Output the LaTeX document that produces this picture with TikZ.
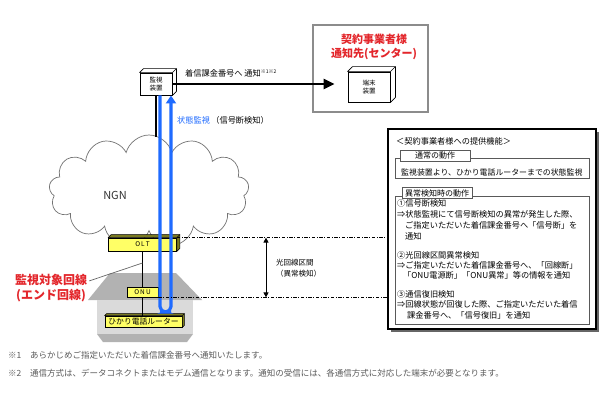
\documentclass[tikz,border=0pt]{standalone}
\usepackage{fontspec}
\setmainfont{Noto Sans CJK JP}
\usepackage{xcolor}
\usepackage{tikz}
\usetikzlibrary{calc,arrows.meta,shapes.symbols,shadows}
\definecolor{ink}{HTML}{000000}
\definecolor{netblue}{HTML}{1F6BFF}
\definecolor{alert}{HTML}{E3262B}
\definecolor{frame}{HTML}{8C8C8C}
\definecolor{boxyel}{HTML}{FFFF66}
\definecolor{boxolive}{HTML}{7A7A20}
\definecolor{note}{HTML}{5A5A5A}
\definecolor{roof}{HTML}{B2B2B2}
\definecolor{wall}{HTML}{DADADA}
\tikzset{
  dev/.style={draw=ink, fill=white, line width=0.9pt, inner sep=0pt, align=center, font=\fontsize{6.5}{8.5}\selectfont},
  unit/.style={draw=ink, fill=boxyel, line width=0.8pt, inner sep=0pt, font=\fontsize{6.5}{7}\selectfont},
  link/.style={draw=ink, line width=2.6pt},
  trunk/.style={draw=ink, line width=1.8pt},
  mon/.style={draw=netblue, line width=3.2pt},
  sect/.style={draw=ink, line width=0.9pt, dash pattern=on 3.5pt off 1.5pt on 1pt off 1.5pt},
  lab/.style={font=\fontsize{8.2}{10}\selectfont, inner sep=0pt, anchor=west},
  small/.style={font=\fontsize{7.5}{11}\selectfont, inner sep=0pt, anchor=west, align=left},
  alertlab/.style={text=alert, font=\bfseries, inner sep=0pt, align=center},
  sub/.style={draw=black!65, line width=0.6pt, minimum width=194, inner sep=0pt},
  tab/.style={draw=black!65, fill=white, line width=0.6pt, minimum width=70, minimum height=11, inner sep=0pt, font=\fontsize{8}{9}\selectfont},
  note/.style={font=\fontsize{8.5}{10}\selectfont, text=note, inner sep=0pt, anchor=west},
}
% top and side faces of a box node
\newcommand{\deviceside}[3]{%
  \filldraw[fill=#3, draw=ink, line width=0.6pt, line join=round]
    (#1.north west) -- ++(#2,-#2) -- ($(#1.north east)+(#2,-#2)$)
    -- ($(#1.south east)+(#2,-#2)$) -- (#1.south east) -- (#1.north east) -- cycle;
  \draw[ink, line width=0.6pt] (#1.north east) -- ++(#2,-#2);}

\begin{document}
\begin{tikzpicture}[x=1pt,y=-1pt]
  \path[use as bounding box, fill=white] (0,0) rectangle (610,400);

  % NGN cloud
  \node[cloud, cloud puffs=13, aspect=1.75, draw=black!55, line width=0.7pt,
        minimum width=200, minimum height=112] (ngncloud) at (149,191) {};
  \node[font=\fontsize{11}{11}\selectfont, text=black!80] (ngn) at (115,195) {NGN};

  % house
  \fill[roof] (88,300) -- (110,273) -- (176,273) -- (202,300) -- cycle;
  \fill[wall] (97,300) -- (193,300) -- (193,334) -- (97,334) -- cycle;
  \fill[roof] (97,334) -- (193,334) -- (187,342) -- (103,342) -- cycle;

  % notification side
  \node[draw=frame, line width=1.3pt, minimum width=115, minimum height=87] (center) at (370.5,68.5) {};
  \node[alertlab, font=\fontsize{11}{14}\selectfont\bfseries] (centername) at (374,47) {契約事業者様\\通知先(センター)};
  \node[dev, minimum width=42, minimum height=30] (tanmatsu) at (369,87) {端末\\装置};
  \deviceside{tanmatsu}{5}{white}

  \node[dev, minimum width=32, minimum height=22] (kanshi) at (156,84) {監視\\装置};
  \deviceside{kanshi}{4}{white}
  \draw[link, -{Triangle[width=10pt,length=11pt]}, shorten >=13pt] (kanshi.east) -- (kanshi.east -| tanmatsu.west);
  \node[lab] (callnote) at (185,73) {着信課金番号へ 通知\raisebox{2.5pt}{\fontsize{5}{5}\selectfont ※1※2}};

  \coordinate (drop) at (156,137);
  \draw[link] (kanshi.south) -- (drop);

  % access line
  \node[unit, minimum width=68, minimum height=13] (olt) at (142.5,244.5) {O\,L\,T};
  \deviceside{olt}{3}{boxolive}
  \node[unit, minimum width=31, minimum height=10] (onu) at (142.5,292) {O\,N\,U};
  \node[unit, minimum width=77, minimum height=11, font=\fontsize{7.8}{8}\selectfont] (router) at (143.5,321.5) {ひかり電話ルーター};
  \deviceside{router}{2}{boxolive}
  \draw[trunk] (olt.south) -- (onu.north);
  \draw[trunk] (onu.south) -- (onu.south |- router.north);

  \coordinate (loopbot) at (165.5,312);
  \draw[mon, rounded corners=5.5pt, -{Triangle[width=10pt,length=8pt]}]
    ([xshift=4pt]kanshi.south) |- (loopbot) -| ([xshift=15pt]kanshi.south);
  \node[lab] (watchlab) at (177,120) {\textcolor{netblue}{状態監視}\,（信号断検知）};

  \node[alertlab, font=\fontsize{12}{15}\selectfont\bfseries] (endline) at (51,288) {監視対象回線\\(エンド回線)};
  \coordinate (tap) at (142.5,263);
  \draw[black!60, line width=0.7pt] ($(endline.north east)+(2,7)$) -- (tap);

  % monitored section
  \node[draw=ink, line width=1.5pt, fill=white, inner sep=0pt,
        drop shadow={shadow xshift=3pt, shadow yshift=-3pt, fill=black!60, opacity=1},
        minimum width=208, minimum height=200] (panel) at (492,229) {};
  \draw[sect] (olt.north east) -- (olt.north east -| panel.west);
  \draw[sect] (onu.south east) -- (onu.south east -| panel.west);
  \coordinate (spanx) at (266,0);
  \draw[ink, line width=0.9pt, {Triangle[width=5pt,length=5pt]}-{Triangle[width=5pt,length=5pt]}]
    (olt.north east -| spanx) -- (onu.south east -| spanx);
  \node[small] (spanlab) at (276,268.5) {光回線区間\\（異常検知）};

  % service panel
  \node[lab] (paneltitle) at (396,141) {＜契約事業者様への提供機能＞};
  \node[sub, minimum height=20] (normalbox) at (492,168) {};
  \node[tab] (normaltab) at (435,155.5) {通常の動作};
  \node[lab, font=\fontsize{7.9}{10}\selectfont] (normaltxt) at (401,172) {監視装置より、ひかり電話ルーターまでの状態監視};
  \node[sub, minimum height=128] (faultbox) at (492,260) {};
  \node[tab] (faulttab) at (437,193) {異常検知時の動作};
  \foreach \xx/\yy/\txt in {397/203/①信号断検知,
      397/214/⇒状態監視にて信号断検知の異常が発生した際、,
      405/225/ご指定いただいた着信課金番号へ「信号断」を,
      405/236/通知,
      397/255/②光回線区間異常検知,
      397/265/⇒ご指定いただいた着信課金番号へ、「回線断」,
      403/275/「ONU電源断」「ONU異常」等の情報を通知,
      397/294/③通信復旧検知,
      397/304/⇒回線状態が回復した際、ご指定いただいた着信,
      407/315/課金番号へ、「信号復旧」を通知}
    \node[lab] (fault-\yy) at (\xx,\yy) {\txt};

  % footnotes
  \node[note] (mark1) at (8,355) {※1};
  \node[note] (foot1) at (30,355) {あらかじめご指定いただいた着信課金番号へ通知いたします。};
  \node[note] (mark2) at (8,373) {※2};
  \node[note] (foot2) at (30,373) {通信方式は、データコネクトまたはモデム通信となります。通知の受信には、各通信方式に対応した端末が必要となります。};
\end{tikzpicture}
\end{document}
